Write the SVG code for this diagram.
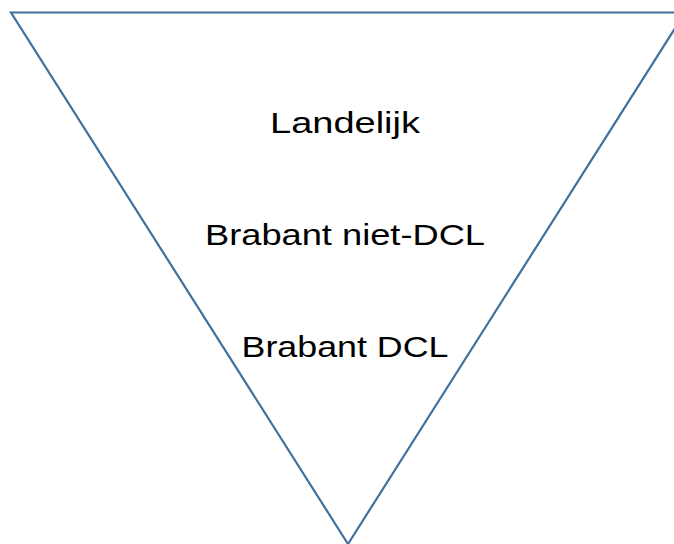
<svg xmlns="http://www.w3.org/2000/svg" width="674" height="544" viewBox="0 0 674 544">
<style>
.tri{fill:none;stroke:#41719C;stroke-width:2.2;stroke-linejoin:miter}
.lbl{font-family:"Liberation Sans","DejaVu Sans",sans-serif;font-size:29px;fill:#000;text-anchor:middle}
</style>
<rect width="674" height="544" fill="#fff"/>
<g id="triangle">
<polygon class="tri" points="11,12.5 685,12.5 348,544"/>
</g>
<g id="connectors"></g>
<g id="node-landelijk"><text class="lbl" x="345" y="133" textLength="150" lengthAdjust="spacingAndGlyphs">Landelijk</text></g>
<g id="node-brabant-niet-dcl"><text class="lbl" x="345" y="245" textLength="280" lengthAdjust="spacingAndGlyphs">Brabant niet-DCL</text></g>
<g id="node-brabant-dcl"><text class="lbl" x="345" y="357" textLength="207" lengthAdjust="spacingAndGlyphs">Brabant DCL</text></g>
</svg>
